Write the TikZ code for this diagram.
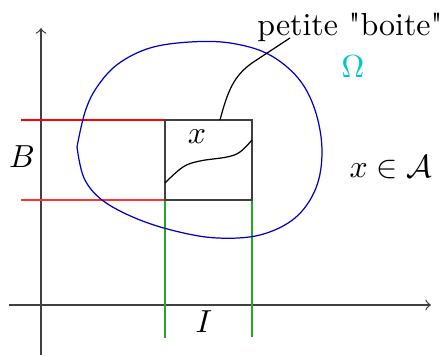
\documentclass[tikz,border=0pt]{standalone}
\usepackage{fontspec}
\definecolor{omegacyan}{RGB}{0,200,200}
\begin{document}
\begin{tikzpicture}[x=0.326pt, y=-0.326pt, every node/.style={inner sep=0pt, scale=1.04}]
  \useasboundingbox (0,0) rectangle (444,356);

  % axes
  \coordinate (xstart) at (9,305);
  \coordinate (xend) at (431,305);
  \coordinate (ystart) at (41,355);
  \coordinate (yend) at (41,28);
  \draw[->, black!75] (xstart) -- (xend);
  \draw[->, black!75] (ystart) -- (yend);

  % box
  \coordinate (boxbl) at (165,200);
  \coordinate (boxtl) at (165,120);
  \coordinate (boxbr) at (252,200);
  \coordinate (boxtr) at (252,120);

  % projections
  \coordinate (redtop) at (21,120);
  \coordinate (redbot) at (21,200);
  \coordinate (greenl) at (165,338);
  \coordinate (greenr) at (252,337);
  \draw[red] (redtop) -- (boxtl);
  \draw[red!80] (redbot) -- (boxbl);
  \draw[green!60!black!85] (boxbl) -- (greenl);
  \draw[green!60!black!85] (boxbr) -- (greenr);

  % domain Omega
  \draw[blue!75!black] plot[smooth, tension=0.6] coordinates {
    (77,147) (85,112) (97,87) (118,64) (150,48) (190,42) (230,43)
    (268,54) (298,78) (315,110) (322,150) (316,188) (295,218)
    (260,235) (217,238) (175,231) (135,218) (102,200) (84,178) (77,147)};

  \draw[black!75] (boxbl) rectangle (boxtr);

  % curve inside the box
  \draw plot[smooth, tension=0.6] coordinates {
    (165,183) (183,167) (200,161) (227,157) (240,152) (252,140)};

  % labels
  \node (boite) at (350,27) {petite \textquotedbl boite\textquotedbl};
  \coordinate (boxtop) at (220,120);
  \coordinate (tail) at (290,38);
  \draw (boxtop) .. controls (228,90) and (234,76) .. (252,63) -- (tail);
  \node[text=omegacyan] (omega) at (353,67) {$\Omega$};
  \node (xinA) at (391,167) {$x \in \mathcal{A}$};
  \node (xlab) at (197,137) {$x$};
  \node (Blab) at (22,157) {$B$};
  \node (Ilab) at (204,322) {$I$};
\end{tikzpicture}
\end{document}
